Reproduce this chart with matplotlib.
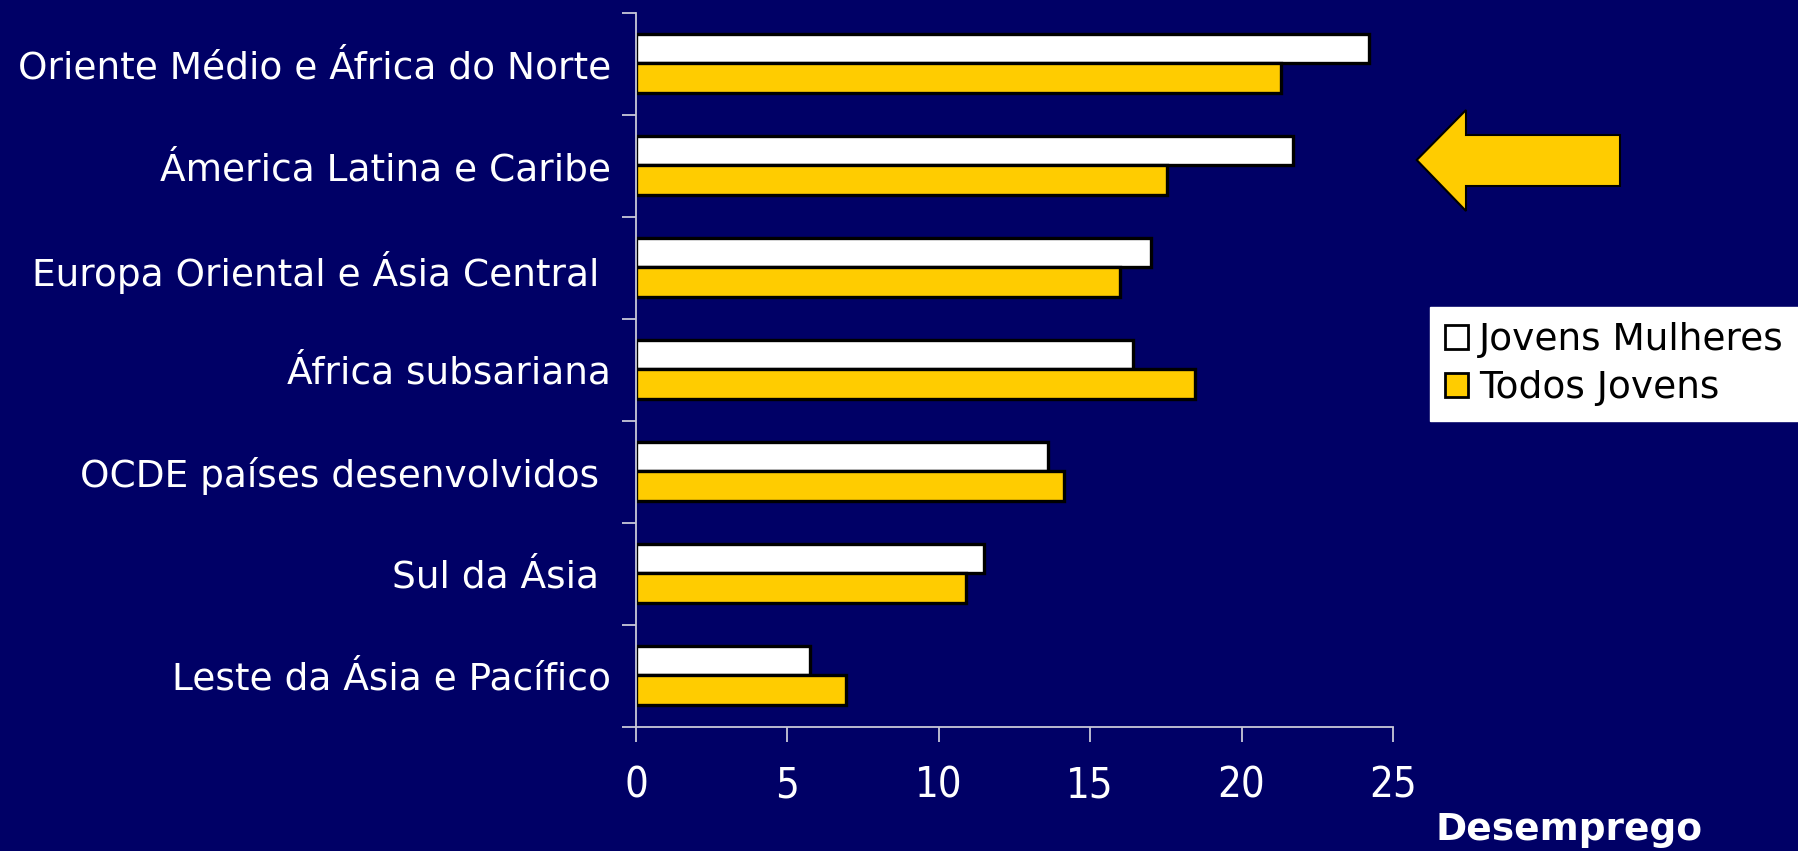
import matplotlib
matplotlib.use('Agg')
import matplotlib.pyplot as plt
from matplotlib.patches import Polygon, Patch
import numpy as np

# dados
regioes = ['Oriente Médio e África do Norte', 'Ámerica Latina e Caribe',
           'Europa Oriental e Ásia Central ', 'África subsariana',
           'OCDE países desenvolvidos ', 'Sul da Ásia ', 'Leste da Ásia e Pacífico']
jovens_mulheres = [24.2, 21.7, 17.0, 16.4, 13.6, 11.5, 5.75]
todos_jovens = [21.3, 17.55, 16.0, 18.45, 14.15, 10.9, 6.95]
xticks = [0, 5, 10, 15, 20, 25]

bg = '#000066'
amarelo = '#FFCC00'
eixo = '#c8c8d8'

W, H = 1798, 851
fig = plt.figure(figsize=(W/100, H/100), dpi=100, facecolor=bg)
ax = fig.add_axes([636/W, 1-727/H, (1393-636)/W, (727-13)/H])
ax.set_facecolor(bg)

y = np.arange(len(regioes))
h = 0.29
ax.barh(y-0.15, jovens_mulheres, height=h, color='white', edgecolor='black', linewidth=2.4)
ax.barh(y+0.14, todos_jovens, height=h, color=amarelo, edgecolor='black', linewidth=2.4)

ax.set_xlim(0, 25)
ax.set_ylim(len(regioes)-0.5, -0.5)

for s in ['top', 'right']:
    ax.spines[s].set_visible(False)
for s in ['left', 'bottom']:
    ax.spines[s].set_color(eixo)
    ax.spines[s].set_linewidth(1.3)

ax.set_yticks(y)
ax.set_yticklabels(regioes, fontsize=27, color='white')
ax.set_yticks(np.arange(-0.5, len(regioes), 1), minor=True)
ax.tick_params(axis='y', which='major', length=0, pad=18)
ax.tick_params(axis='y', which='minor', length=10, width=1.3, color=eixo, direction='out')

ax.set_xticks(xticks)
ax.set_xticklabels([str(v) for v in xticks], fontsize=30, color='white', fontstretch='condensed')
ax.tick_params(axis='x', length=11, width=1.3, color=eixo, direction='out', pad=16)

fig.text(1569/W, 1-830/H, 'Desemprego', fontsize=27, fontweight='bold', color='white',
         ha='center', va='center')

# seta amarela
seta = [(1416.7, 160), (1466, 110), (1466, 135), (1620, 135), (1620, 186), (1466, 186), (1466, 211)]
seta = [(px/W, 1-py/H) for px, py in seta]
fig.patches.append(Polygon(seta, closed=True, facecolor=amarelo, edgecolor='black',
                           linewidth=1.5, transform=fig.transFigure))

handles = [Patch(facecolor='white', edgecolor='black', linewidth=2),
           Patch(facecolor=amarelo, edgecolor='black', linewidth=2)]
leg = fig.legend(handles, ['Jovens Mulheres', 'Todos Jovens'], loc='upper left',
                 bbox_to_anchor=(1430/W, 1-307/H), fontsize=27, frameon=True, fancybox=False,
                 facecolor='white', edgecolor='white', framealpha=1, handlelength=0.6,
                 handleheight=0.6, handletextpad=0.3, borderpad=0.4, labelspacing=0.33,
                 borderaxespad=0)

fig.savefig('out.png', dpi=100, facecolor=bg)
